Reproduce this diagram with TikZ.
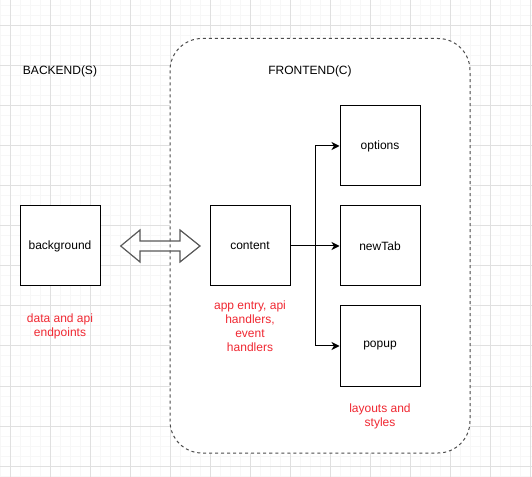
\documentclass[tikz,border=0pt]{standalone}
\usepackage{fontspec}
\setmainfont{Liberation Sans}
\usetikzlibrary{arrows.meta}
\definecolor{notered}{RGB}{240,40,50}
\tikzset{
  block/.style={draw, fill=white, line width=0.75pt, minimum width=60pt, minimum height=60pt, inner sep=0pt, font=\fontsize{9}{10.6}\selectfont},
  note/.style={text=notered, align=center, inner sep=0pt, font=\fontsize{9}{10.6}\selectfont},
  heading/.style={inner sep=0pt, font=\fontsize{9}{10.6}\selectfont},
  arr/.style={-{Stealth[length=6pt,width=6pt,inset=1.8pt]}, line width=0.75pt},
}

\begin{document}
\begin{tikzpicture}[x=0.75pt,y=-0.75pt]

\def\frontbox{(170,38.5) rectangle (470,453)}

\useasboundingbox (0,0) rectangle (532,477);
\fill[white] (0,0) rectangle (532,477);

\foreach \x in {0,10,...,530} \draw[black!3, line width=0.75pt] (\x,0) -- (\x,477);
\foreach \y in {6,16,...,476} \draw[black!3, line width=0.75pt] (0,\y) -- (532,\y);
\foreach \x in {10,50,...,530} \draw[black!12, line width=0.75pt] (\x,0) -- (\x,477);
\foreach \y in {26,66,...,466} \draw[black!12, line width=0.75pt] (0,\y) -- (532,\y);

\fill[white, rounded corners=24pt] \frontbox;
\draw[black!70, line width=0.75pt, dash pattern=on 2.25pt off 2.25pt, rounded corners=24pt] \frontbox;

\node[heading] (backTitle) at (60,71) {BACKEND(S)};
\node[heading] (frontTitle) at (310,71) {FRONTEND(C)};

\node[block] (background) at (60,246) {background};
\node[block] (content) at (250,246) {content};
\node[block] (options) at (380,146) {options};
\node[block] (newTab) at (380,246) {newTab};
\node[block] (popup) at (380,346) {popup};

\node[note] (backNote) at (60,326) {data and api\\endpoints};
\node[note] (contentNote) at (250,326) {app entry, api\\handlers,\\event\\handlers};
\node[note] (frontNote) at (380,416) {layouts and\\styles};

\coordinate (linkL) at (120.7,246);
\coordinate (linkR) at (200,246);
\draw[black!65, line width=0.9pt] (linkL) -- ++(19.3,-16) -- ++(0,11) -- (180,241) -- ++(0,-11) -- (linkR)
  -- ++(-20,16) -- ++(0,-11) -- (140,251) -- ++(0,11) -- cycle;

\coordinate (split) at (315.7,246);
\draw[arr] (content) -- (newTab);
\draw[arr] (split) |- (options);
\draw[arr] (split) |- (popup);

\end{tikzpicture}
\end{document}
